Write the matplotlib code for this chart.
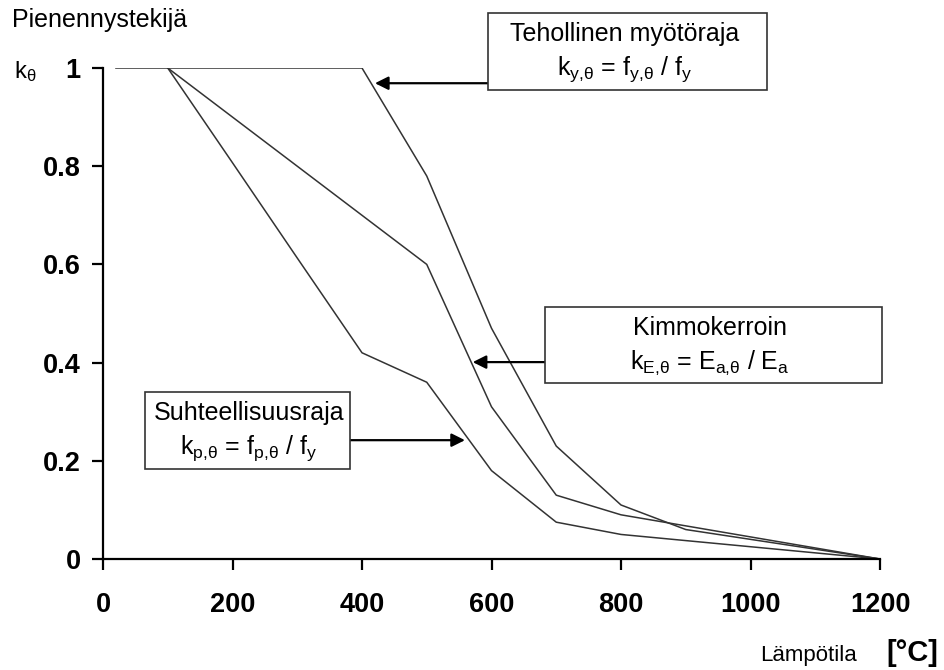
import matplotlib
matplotlib.use("Agg")
import matplotlib.pyplot as plt
from matplotlib.patches import Rectangle

plt.rcParams['font.family'] = ['Liberation Sans', 'DejaVu Sans']
plt.rcParams['mathtext.fontset'] = 'custom'
plt.rcParams['mathtext.rm'] = 'Liberation Sans'
plt.rcParams['mathtext.it'] = 'Liberation Sans:italic'
plt.rcParams['mathtext.bf'] = 'Liberation Sans:bold'

# Data (Eurocode reduction factors for steel)
temp_y = [20, 100, 200, 300, 400, 500, 600, 700, 800, 900, 1000, 1100, 1200]
k_y = [1.0, 1.0, 1.0, 1.0, 1.0, 0.78, 0.47, 0.23, 0.11, 0.06, 0.04, 0.02, 0.0]
temp = [100, 200, 300, 400, 500, 600, 700, 800, 900, 1000, 1100, 1200]
k_E = [1.0, 0.9, 0.8, 0.7, 0.6, 0.31, 0.13, 0.09, 0.0675, 0.045, 0.0225, 0.0]
k_p = [1.0, 0.807, 0.613, 0.42, 0.36, 0.18, 0.075, 0.05, 0.0375, 0.025, 0.0125, 0.0]
x_ticks = [0, 200, 400, 600, 800, 1000, 1200]
y_ticks = [0, 0.2, 0.4, 0.6, 0.8, 1]
y_tick_labels = ['0', '0.2', '0.4', '0.6', '0.8', '1']

W, H = 945, 670
fig = plt.figure(figsize=(W / 100, H / 100), dpi=100)
ax = fig.add_axes([103 / W, 1 - 559 / H, (880 - 103) / W, (559 - 68) / H])

lc = '#333333'
ax.plot(temp_y, k_y, color=lc, lw=1.1)
ax.plot(temp, k_E, color=lc, lw=1.1)
ax.plot(temp, k_p, color=lc, lw=1.1)

ax.set_xlim(0, 1200)
ax.set_ylim(0, 1)
ax.set_xticks(x_ticks)
ax.set_xticklabels([str(t) for t in x_ticks])
ax.set_yticks(y_ticks)
ax.set_yticklabels(y_tick_labels)
for s in ['top', 'right']:
    ax.spines[s].set_visible(False)
for s in ['left', 'bottom']:
    ax.spines[s].set_linewidth(1.6)
ax.tick_params(axis='both', length=8, width=1.6, labelsize=19.5, direction='out')
ax.tick_params(axis='x', pad=16)
ax.tick_params(axis='y', pad=8)
for lab in ax.get_xticklabels() + ax.get_yticklabels():
    lab.set_fontweight('bold')
ax.patch.set_visible(False)

def px(x, y):
    return x / W, 1 - y / H

fig.text(*px(12, 20), 'Pienennystekijä', fontsize=18, va='center', ha='left')
fig.text(*px(14, 72), r'k$_{\mathrm{θ}}$', fontsize=17, va='center', ha='left')
fig.text(*px(857, 655), 'Lämpötila', fontsize=16, va='center', ha='right')
fig.text(*px(886, 653), '[°C]', fontsize=21, fontweight='bold', va='center', ha='left')

def box(x0, y0, x1, y1, l1, l2, cx):
    r = Rectangle(px(x0, y1), (x1 - x0) / W, (y1 - y0) / H, transform=fig.transFigure,
                  facecolor='white', edgecolor='#333333', lw=1.2, zorder=5)
    fig.patches.append(r)
    ym1 = y0 + (y1 - y0) * 0.27
    ym2 = y0 + (y1 - y0) * 0.73
    fig.text(*px(cx, ym1), l1, fontsize=18, ha='center', va='center', zorder=6)
    fig.text(*px(cx, ym2), l2, fontsize=18, ha='center', va='center', zorder=6)

box(488, 13, 767, 90, 'Tehollinen myötöraja',
    r'k$_{\mathrm{y}{,}\mathrm{θ}}$ = f$_{\mathrm{y}{,}\mathrm{θ}}$ / f$_{\mathrm{y}}$', 625)
box(545, 307, 882, 383, 'Kimmokerroin',
    r'k$_{\mathrm{E}{,}\mathrm{θ}}$ = E$_{\mathrm{a}{,}\mathrm{θ}}$ / E$_{\mathrm{a}}$', 710)
box(145, 392, 350, 469, 'Suhteellisuusraja',
    r'k$_{\mathrm{p}{,}\mathrm{θ}}$ = f$_{\mathrm{p}{,}\mathrm{θ}}$ / f$_{\mathrm{y}}$', 249)

arrowprops = dict(arrowstyle='-|>', color='black', lw=1.6, mutation_scale=20, shrinkA=0, shrinkB=0)
# arrows (data coordinates)
ax.annotate('', xy=(420, 0.969), xytext=(595, 0.969), arrowprops=arrowprops, annotation_clip=False)
ax.annotate('', xy=(571, 0.401), xytext=(683, 0.401), arrowprops=arrowprops, annotation_clip=False)
ax.annotate('', xy=(559, 0.242), xytext=(375, 0.242), arrowprops=arrowprops, annotation_clip=False)

fig.savefig('out.png', dpi=100)
